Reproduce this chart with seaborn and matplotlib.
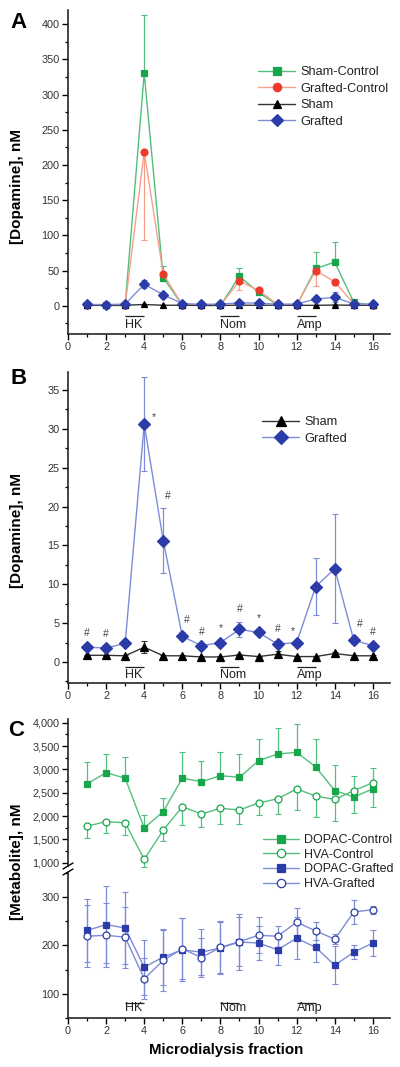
import numpy as np
import pandas as pd
import matplotlib
matplotlib.use("Agg")
import matplotlib.pyplot as plt
import seaborn as sns
from matplotlib.ticker import MultipleLocator, FuncFormatter
from matplotlib.lines import Line2D

# ---------------- data ----------------
fractions = list(range(1, 17))

# Panel A
sham_control = [0.5, 0.5, 0.5, 330, 40, 1, 0.5, 0.5, 42, 19, 1, 0.5, 53, 62, 5, 1]
sham_control_err = [0, 0, 0, 83, 17, 0, 0, 0, 12, 4, 0, 0, 24, 28, 2, 0]
grafted_control = [0.8, 0.8, 0.8, 219, 45, 1.5, 1, 1, 35, 22, 2, 1, 50, 34, 3, 1]
grafted_control_err = [0, 0, 0, 125, 10, 0, 0, 0, 12, 4, 0, 0, 22, 4, 1, 0]
sham = [0.86, 0.86, 0.8, 1.9, 0.8, 0.8, 0.65, 0.65, 0.9, 0.7, 1.0, 0.7, 0.7, 1.1, 0.8, 0.8]
sham_err = [0.1, 0.1, 0.1, 0.8, 0.1, 0.1, 0.1, 0.1, 0.15, 0.1, 0.4, 0.1, 0.1, 0.2, 0.1, 0.1]
grafted = [1.9, 1.8, 2.4, 30.6, 15.6, 3.3, 2.1, 2.5, 4.2, 3.8, 2.3, 2.5, 9.7, 12.0, 2.8, 2.1]
grafted_err = [0.2, 0.2, 0.2, 6.0, 4.2, 0.5, 0.2, 0.2, 1.0, 0.3, 0.3, 0.2, 3.65, 7.0, 0.5, 0.2]

# significance marks (panel B)
b_marks = ['#', '#', '', '*', '#', '#', '#', '*', '#', '*', '#', '*', '', '', '#', '#']

# Panel C
dopac_control = [2690, 2930, 2810, 1745, 2095, 2815, 2735, 2865, 2830, 3185, 3330, 3365, 3055, 2545, 2410, 2580]
dopac_control_err = [470, 390, 460, 280, 300, 560, 440, 515, 490, 460, 560, 600, 590, 540, 450, 460]
hva_control = [1785, 1880, 1855, 1070, 1700, 2200, 2045, 2165, 2130, 2280, 2370, 2580, 2430, 2355, 2545, 2715]
hva_control_err = [245, 250, 265, 160, 230, 395, 275, 345, 300, 260, 335, 450, 460, 465, 470, 515]
dopac_grafted = [231, 243, 236, 155, 176, 191, 186, 195, 207, 205, 191, 215, 196, 159, 186, 205]
dopac_grafted_err = [65, 80, 75, 57, 58, 65, 47, 55, 57, 35, 31, 43, 31, 39, 14, 27]
hva_grafted = [219, 221, 217, 131, 169, 193, 175, 196, 208, 221, 219, 248, 230, 213, 269, 274]
hva_grafted_err = [64, 66, 63, 42, 63, 63, 41, 52, 51, 37, 22, 29, 18, 10, 25, 8]

stimuli = ['HK', 'Nom', 'Amp']
stim_start = [3, 8, 12]

# ---------------- style ----------------
sns.set_theme(style="ticks")
plt.rcParams['font.family'] = ['Liberation Sans', 'DejaVu Sans']
plt.rcParams['axes.linewidth'] = 1.2

GREEN_M, GREEN_L = '#17a64b', '#52c07c'
RED_M, RED_L = '#ee3a2c', '#f6a08a'
BLACK_M, BLACK_L = '#000000', '#333333'
BLUE_M, BLUE_L = '#2b3ca8', '#7d8cd8'

W, H = 400, 1067
fig = plt.figure(figsize=(W / 100, H / 100), dpi=100)


def fx(px):
    return px / W


def fy(py):
    return 1 - py / H


def axes_px(left, top, right, bottom):
    return fig.add_axes([fx(left), fy(bottom), (right - left) / W, (bottom - top) / H])


def series(ax, y, err, direction, mcol, lcol, marker, ms, mfc=None, label=None):
    df = pd.DataFrame({'fraction': fractions, 'value': y})
    e = np.asarray(err, dtype=float)
    lo = e if direction in ('both', 'down') else np.zeros_like(e)
    hi = e if direction in ('both', 'up') else np.zeros_like(e)
    ax.errorbar(fractions, y, yerr=[lo, hi], fmt='none', ecolor=lcol,
                elinewidth=0.9, capsize=2, capthick=0.8, zorder=2)
    sns.lineplot(data=df, x='fraction', y='value', ax=ax, color=lcol,
                 linewidth=1.0, marker=marker, markersize=ms,
                 markerfacecolor=mfc if mfc else mcol, markeredgecolor=mcol,
                 markeredgewidth=0.9, legend=False, zorder=3)
    return Line2D([], [], color=lcol, linewidth=1.0, marker=marker, markersize=ms + 1,
                  markerfacecolor=mfc if mfc else mcol, markeredgecolor=mcol,
                  markeredgewidth=0.9, label=label)


def style_axis(ax, xaxis=True):
    sns.despine(ax=ax)
    ax.set_xlim(0, 16.9)
    ax.tick_params(axis='both', which='major', direction='out', length=4, width=1,
                   labelsize=7.8, labelcolor='#333333', color='black', pad=2)
    ax.tick_params(axis='both', which='minor', direction='out', length=2.2, width=0.9,
                   color='black')
    ax.xaxis.set_major_locator(MultipleLocator(2))
    ax.xaxis.set_minor_locator(MultipleLocator(1))
    ax.set_xlabel('')
    ax.set_ylabel('')
    ax.grid(False)
    if not xaxis:
        ax.spines['bottom'].set_visible(False)
        ax.tick_params(axis='x', which='both', bottom=False, labelbottom=False)


def stim_labels(ax, ytext, ybar):
    for name, s in zip(stimuli, stim_start):
        ax.text(s, ytext, name, ha='left', va='center', fontsize=9, color='#222222')
        ax.plot([s, s + 1], [ybar, ybar], color='#222222', linewidth=0.9,
                solid_capstyle='butt', clip_on=False)


def leg(handles, left_px, top_px, spacing, size=9.2):
    fig.legend(handles=handles, loc='upper left',
               bbox_to_anchor=(fx(left_px), fy(top_px)), frameon=False,
               fontsize=size, handlelength=2.9, handletextpad=0.4,
               borderpad=0, borderaxespad=0, labelspacing=spacing,
               labelcolor='#222222')


# ---------------- Panel A ----------------
axA = axes_px(68, 10, 390, 334)
hA = [
    series(axA, sham_control, sham_control_err, 'up', GREEN_M, GREEN_L, 's', 4.8, label='Sham-Control'),
    series(axA, grafted_control, grafted_control_err, 'down', RED_M, RED_L, 'o', 5, label='Grafted-Control'),
    series(axA, sham, sham_err, 'both', BLACK_M, BLACK_L, '^', 5, label='Sham'),
    series(axA, grafted, grafted_err, 'both', BLUE_M, BLUE_L, 'D', 5.2, label='Grafted'),
]
style_axis(axA)
axA.set_ylim(-40, 420)
axA.yaxis.set_major_locator(MultipleLocator(50))
axA.yaxis.set_minor_locator(MultipleLocator(25))
stim_labels(axA, -27.5, -15)
leg(hA, 258, 66, 0.36)

# ---------------- Panel B ----------------
axB = axes_px(68, 372, 390, 683)
hB = [
    series(axB, sham, sham_err, 'both', BLACK_M, BLACK_L, '^', 5.5, label='Sham'),
    series(axB, grafted, grafted_err, 'both', BLUE_M, BLUE_L, 'D', 5.8, label='Grafted'),
]
style_axis(axB)
axB.set_ylim(-2.7, 37.3)
axB.yaxis.set_major_locator(MultipleLocator(5))
axB.yaxis.set_minor_locator(MultipleLocator(2.5))
stim_labels(axB, -1.65, -0.6)
leg(hB, 262, 416, 0.36)

mark_offsets = {4: (7, 5), 5: (3, 9), 6: (3, 9), 12: (-3, 7), 15: (4, 9)}
for f, m, v, e in zip(fractions, b_marks, grafted, grafted_err):
    if not m:
        continue
    dx, dy = mark_offsets.get(f, (0, 9))
    base = v if f == 4 else v + e
    axB.annotate(m, xy=(f, base), xytext=(dx, dy), textcoords='offset points',
                 ha='center', va='center', fontsize=7.5, color='#444444')

# ---------------- Panel C ----------------
axCu = axes_px(68, 719, 390, 869)
axCl = axes_px(68, 869, 390, 1018)
h1 = series(axCu, dopac_control, dopac_control_err, 'up', GREEN_M, GREEN_L, 's', 4.5, label='DOPAC-Control')
h2 = series(axCu, hva_control, hva_control_err, 'down', GREEN_M, GREEN_L, 'o', 5, mfc='white', label='HVA-Control')
h3 = series(axCl, dopac_grafted, dopac_grafted_err, 'both', BLUE_M, BLUE_L, 's', 4.5, label='DOPAC-Grafted')
h4 = series(axCl, hva_grafted, hva_grafted_err, 'both', BLUE_M, BLUE_L, 'o', 5, mfc='white', label='HVA-Grafted')
style_axis(axCu, xaxis=False)
style_axis(axCl)
axCu.set_ylim(865, 4080)
axCu.yaxis.set_major_locator(MultipleLocator(500))
axCu.yaxis.set_minor_locator(MultipleLocator(250))
axCu.yaxis.set_major_formatter(FuncFormatter(lambda v, p: f'{v:,.0f}'))
axCu.set_yticks([1000, 1500, 2000, 2500, 3000, 3500, 4000])
axCu.spines['left'].set_bounds(920, 4080)
axCl.set_ylim(50, 358)
axCl.yaxis.set_major_locator(MultipleLocator(100))
axCl.yaxis.set_minor_locator(MultipleLocator(50))
axCl.set_yticks([100, 200, 300])
axCl.spines['left'].set_bounds(50, 350)
stim_labels(axCl, 71, 82)
leg([h1, h2, h3, h4], 263, 834, 0.22, size=9.0)

# axis break marks
for off in (-3, 3):
    fig.add_artist(Line2D([fx(63), fx(73)], [fy(869 + off + 3), fy(869 + off - 3)],
                          color='black', linewidth=1.0))

# ---------------- labels ----------------
ylab_kw = dict(rotation=90, ha='center', va='center', fontsize=11, fontweight='bold', color='black')
fig.text(fx(17), fy(187), '[Dopamine], nM', **ylab_kw)
fig.text(fx(17), fy(530), '[Dopamine], nM', **ylab_kw)
fig.text(fx(17), fy(862), '[Metabolite], nM', **ylab_kw)
fig.text(fx(226), fy(1050), 'Microdialysis fraction', ha='center', va='center',
         fontsize=10.8, fontweight='bold', color='black')

letter_kw = dict(ha='left', va='center', fontsize=16, fontweight='bold', color='black')
fig.text(fx(10), fy(22), 'A', **letter_kw)
fig.text(fx(10), fy(379), 'B', **letter_kw)
fig.text(fx(8), fy(730), 'C', **letter_kw)

fig.savefig('out.png', dpi=100)
